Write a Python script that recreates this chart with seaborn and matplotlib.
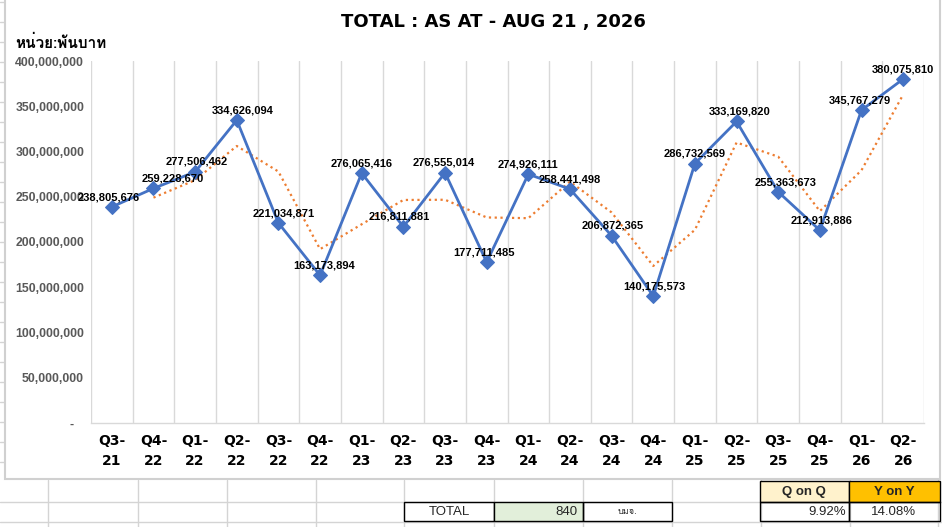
import numpy as np
import pandas as pd
import matplotlib
matplotlib.use("Agg")
import matplotlib.pyplot as plt
import seaborn as sns
from matplotlib import font_manager
from matplotlib.patches import Rectangle
from matplotlib.lines import Line2D

# ========================
# Data
# ========================
quarters = ["Q3-21", "Q4-22", "Q1-22", "Q2-22", "Q3-22", "Q4-22", "Q1-23", "Q2-23",
            "Q3-23", "Q4-23", "Q1-24", "Q2-24", "Q3-24", "Q4-24", "Q1-25", "Q2-25",
            "Q3-25", "Q4-25", "Q1-26", "Q2-26"]
totals = [238805676, 259228670, 277506462, 334626094, 221034871, 163173894,
          276065416, 216811881, 276555014, 177711485, 274926111, 258441498,
          206872365, 140175573, 286732569, 333169820, 255363673, 212913886,
          345767279, 380075810]
y_ticks = [0, 50e6, 100e6, 150e6, 200e6, 250e6, 300e6, 350e6, 400e6]

title = "TOTAL : AS AT - AUG 21 , 2026"
unit_label = "หน่วย:พันบาท"
total_count = "840"
company_unit = "บมจ."
q_on_q = "9.92%"
y_on_y = "14.08%"

df = pd.DataFrame({"pos": range(len(quarters)), "quarter": quarters, "total": totals})
# Excel's 2-period moving average trendline
df["trend"] = df["total"].rolling(2).mean()


# find an installed font that can draw Thai
def find_font(ch):
    try:
        from fontTools.ttLib import TTFont
    except Exception:
        return None
    for f in font_manager.fontManager.ttflist:
        try:
            tt = TTFont(f.fname, fontNumber=0, lazy=True)
            cmap = tt.getBestCmap()
        except Exception:
            continue
        if cmap and ord(ch) in cmap:
            return f.name
    return None


thai_font = find_font("ห")
thai_family = ([thai_font] if thai_font else []) + ["DejaVu Sans"]

# ========================
# Figure
# ========================
sns.set_theme(style="white")
plt.rcParams["font.family"] = ["Liberation Sans", "DejaVu Sans"]

W, H = 942, 527
fig = plt.figure(figsize=(W / 100, H / 100), dpi=100)


def fx(x):
    return x / W


def fy(y):
    return 1 - y / H


grid_c = "#D4D4D4"
# spreadsheet grid behind the chart object
for y in [502, 522]:
    fig.add_artist(Line2D([0, 1], [fy(y), fy(y)], color=grid_c, lw=1, zorder=-3))
for x in [48, 138, 227, 316, 404, 494, 583, 672, 761, 850, 938]:
    fig.add_artist(Line2D([fx(x), fx(x)], [fy(480), 0], color=grid_c, lw=1, zorder=-3))
for y in range(2, 480, 20):
    fig.add_artist(Line2D([0, fx(5)], [fy(y), fy(y)], color=grid_c, lw=1, zorder=-3))

# chart object frame
fig.add_artist(Rectangle((fx(5), fy(479)), fx(935), 479 / H + 0.01, facecolor="white",
                         edgecolor="#D0D0D0", lw=1.5, zorder=-2))

ax = fig.add_axes([fx(91), fy(423), fx(833), 362 / H])
ax.set_zorder(1)
ax.set_facecolor("none")

sns.lineplot(data=df, x="pos", y="trend", ax=ax, color="#ED7D31", lw=1.6,
             linestyle=(0, (1, 1.6)), zorder=2)
sns.lineplot(data=df, x="pos", y="total", ax=ax, color="#4472C4", lw=2,
             marker="D", markersize=7, markeredgecolor="#4472C4", zorder=3)

ax.set_xlim(-0.5, len(quarters) - 0.5)
ax.set_ylim(0, 400e6)
ax.set_xlabel("")
ax.set_ylabel("")

# vertical gridlines between categories
for b in np.arange(-0.5, len(quarters), 1.0):
    ax.axvline(b, color="#D9D9D9", lw=1, zorder=0)
for s in ["top", "right", "left"]:
    ax.spines[s].set_visible(False)
ax.spines["bottom"].set_color("#D9D9D9")
ax.spines["bottom"].set_linewidth(1)

ax.set_yticks(y_ticks)
ax.set_yticklabels(["-   " if v == 0 else f"{v:,.0f}" for v in y_ticks],
                   color="#595959", fontsize=8.8, fontweight="bold")
ax.set_xticks(df["pos"])
ax.set_xticklabels([q.replace("-", "-\n") for q in quarters], fontsize=10,
                   fontweight="bold", linespacing=1.5, color="black",
                   family=["DejaVu Sans"])
ax.tick_params(axis="y", length=0, pad=5)
ax.tick_params(axis="x", length=0, pad=8)

# data labels above each point
label_dx = [-2, 14, 1, 4, 4, 3, 0, -3, -1, -2, 0, 0, 1, 1, 0, 2, 5, 1, -1, 0]
for i, v in enumerate(totals):
    ax.annotate(f"{v:,.0f}", (i, v), xytext=(label_dx[i], 3.5), textcoords="offset points",
                ha="center", va="bottom", fontsize=8, fontweight="bold", color="black",
                zorder=4)

# titles
fig.text(fx(493), fy(22), title, ha="center", va="center", fontsize=13,
         fontweight="bold", family=["DejaVu Sans"], color="black")
fig.text(fx(15), fy(43), unit_label, ha="left", va="center", fontsize=11,
         fontweight="bold", family=thai_family, color="black")

# ========================
# Cells below the chart
# ========================
def cell(x0, x1, y0, y1, fc="none"):
    fig.add_artist(Rectangle((fx(x0), fy(y1)), fx(x1 - x0), (y1 - y0) / H,
                             facecolor=fc, edgecolor="black", lw=1, zorder=5))


cell(404, 494, 502, 521)
cell(494, 583, 502, 521, "#E2EFDA")
cell(583, 672, 502, 521)
cell(760, 849, 481, 502, "#FFF2CC")
cell(849, 940, 481, 502, "#FFC000")
cell(760, 849, 502, 521)
cell(849, 940, 502, 521)

fig.text(fx(449), fy(512), "TOTAL", ha="center", va="center", fontsize=9.5, zorder=6)
fig.text(fx(578), fy(512), total_count, ha="right", va="center", fontsize=9.5, zorder=6)
fig.text(fx(627), fy(512), company_unit, ha="center", va="center", fontsize=6.5,
         family=thai_family, zorder=6)
fig.text(fx(804), fy(492), "Q on Q", ha="center", va="center", fontsize=9.5,
         fontweight="bold", zorder=6)
fig.text(fx(894), fy(492), "Y on Y", ha="center", va="center", fontsize=9.5,
         fontweight="bold", zorder=6)
fig.text(fx(846), fy(512), q_on_q, ha="right", va="center", fontsize=9.5, zorder=6)
fig.text(fx(894), fy(512), y_on_y, ha="center", va="center", fontsize=9.5, zorder=6)

fig.savefig("out.png", dpi=100, facecolor="white")
